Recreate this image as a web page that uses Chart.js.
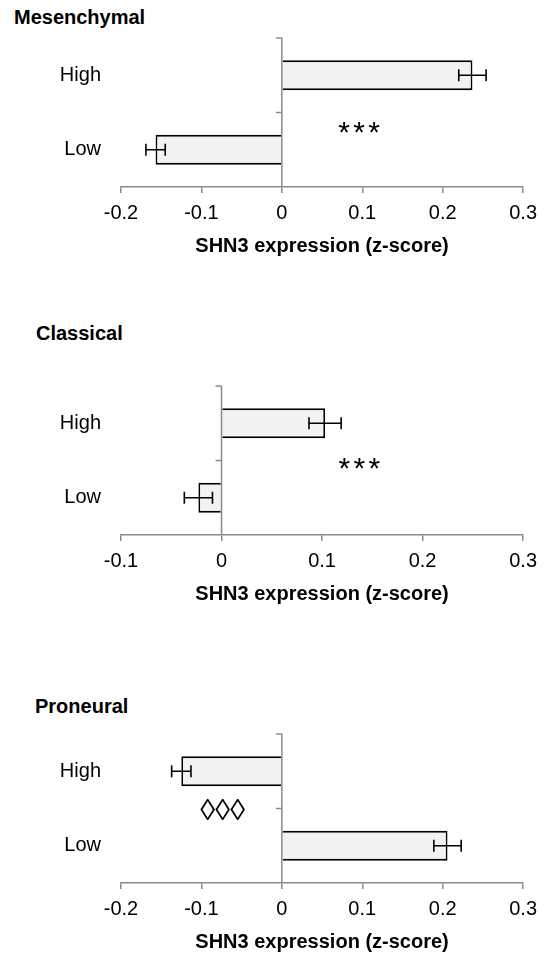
<!DOCTYPE html>
<html lang="en">
<head>
<meta charset="UTF-8">
<title>SHN3 expression by subtype</title>
<script src="https://cdn.jsdelivr.net/npm/chart.js"></script>
<style>
  body {
    margin: 0;
    background: #fff;
    width: 545px;
    height: 954px;
    overflow: hidden;
    position: relative;
    font-family: "Liberation Sans", Arial, sans-serif;
  }
  .panel-title {
    position: absolute;
    font-weight: bold;
    font-size: 20px;
    line-height: 24px;
    color: #000;
  }
  canvas {
    position: absolute;
    left: 0;
  }
</style>
</head>
<body>

<div class="panel-title" style="left:14px; top:5px;">Mesenchymal</div>
<canvas id="mesChart" width="545" height="258" style="top:0px"></canvas>

<div class="panel-title" style="left:36px; top:321px;">Classical</div>
<canvas id="claChart" width="545" height="258" style="top:348px"></canvas>

<div class="panel-title" style="left:35px; top:694px;">Proneural</div>
<canvas id="proChart" width="545" height="258" style="top:696px"></canvas>

<script>
  // categories and values
  const categories = ['High', 'Low'];

  const mesValues = [0.237, -0.157];
  const mesErrors = [0.017, 0.012];
  const claValues = [0.103, -0.023];
  const claErrors = [0.016, 0.014];
  const proValues = [-0.125, 0.206];
  const proErrors = [0.012, 0.017];

  const mesTicks = [-0.2, -0.1, 0, 0.1, 0.2, 0.3];
  const mesTickLabels = ['-0.2', '-0.1', '0', '0.1', '0.2', '0.3'];
  const claTicks = [-0.1, 0, 0.1, 0.2, 0.3];
  const claTickLabels = ['-0.1', '0', '0.1', '0.2', '0.3'];
  const proTicks = [-0.2, -0.1, 0, 0.1, 0.2, 0.3];
  const proTickLabels = ['-0.2', '-0.1', '0', '0.1', '0.2', '0.3'];

  const AXIS_GREY = '#8a8a8a';
  const FONT = '"Liberation Sans", Arial, sans-serif';

  // error bars, zero line with its ticks, significance marks
  const shnPlugin = {
    id: 'shn',
    afterDatasetsDraw(chart, args, opts) {
      const { ctx, chartArea } = chart;
      const x = chart.scales.x;
      const y = chart.scales.y;
      const meta = chart.getDatasetMeta(0);
      ctx.save();

      ctx.strokeStyle = '#000';
      ctx.lineWidth = 1.6;
      opts.values.forEach((v, i) => {
        const cy = meta.data[i].y;
        const x1 = x.getPixelForValue(v - opts.errors[i]);
        const x2 = x.getPixelForValue(v + opts.errors[i]);
        ctx.beginPath();
        ctx.moveTo(x1, cy); ctx.lineTo(x2, cy);
        ctx.moveTo(x1, cy - 6); ctx.lineTo(x1, cy + 6);
        ctx.moveTo(x2, cy - 6); ctx.lineTo(x2, cy + 6);
        ctx.stroke();
      });

      const x0 = x.getPixelForValue(0);
      ctx.strokeStyle = AXIS_GREY;
      ctx.lineWidth = 1.5;
      ctx.beginPath();
      ctx.moveTo(x0, chartArea.top);
      ctx.lineTo(x0, chartArea.bottom);
      for (let k = 0; k < categories.length; k++) {
        const ty = y.getPixelForValue(k - 0.5);
        ctx.moveTo(x0 - 6, ty);
        ctx.lineTo(x0, ty);
      }
      ctx.stroke();

      const m = opts.mark;
      const cx = x.getPixelForValue(m.x);
      const cy = y.getPixelForValue(m.y);
      const chars = Array.from(m.text);
      ctx.fillStyle = '#000';
      ctx.font = m.size + 'px ' + FONT;
      ctx.textAlign = 'center';
      ctx.textBaseline = 'alphabetic';
      chars.forEach((c, j) => {
        ctx.fillText(c, cx + (j - (chars.length - 1) / 2) * m.spacing, cy + m.lift);
      });

      ctx.restore();
    }
  };

  function buildChart(id, values, errors, ticks, tickLabels, mark) {
    return new Chart(document.getElementById(id), {
      type: 'bar',
      data: {
        labels: categories,
        datasets: [{
          data: values,
          backgroundColor: '#f2f2f2',
          borderColor: '#000',
          borderWidth: 1.8,
          barPercentage: 0.4,
          categoryPercentage: 1
        }]
      },
      options: {
        indexAxis: 'y',
        responsive: false,
        animation: false,
        devicePixelRatio: 1,
        layout: { padding: { top: 38, right: 20, bottom: 0, left: 0 } },
        scales: {
          x: {
            min: ticks[0],
            max: ticks[ticks.length - 1],
            afterBuildTicks: s => { s.ticks = ticks.map(v => ({ value: v })); },
            afterFit: s => { s.height = 71; },
            ticks: {
              callback: (v, i) => tickLabels[i],
              color: '#000',
              font: { family: FONT, size: 20 },
              padding: 8,
              maxRotation: 0,
              autoSkip: false
            },
            grid: { drawOnChartArea: false, drawTicks: true, tickLength: 6, color: AXIS_GREY, lineWidth: 1.5 },
            border: { display: true, color: AXIS_GREY, width: 1.5 },
            title: {
              display: true,
              text: 'SHN3 expression (z-score)',
              color: '#000',
              font: { family: FONT, size: 20, weight: 'bold' },
              padding: { top: 0, bottom: 0 }
            }
          },
          y: {
            afterFit: s => { s.width = 121; },
            grid: { display: false, drawTicks: false },
            border: { display: false },
            ticks: { color: '#000', font: { family: FONT, size: 20 }, padding: 20 }
          }
        },
        plugins: {
          legend: { display: false },
          tooltip: { enabled: false },
          shn: { values: values, errors: errors, mark: mark }
        }
      },
      plugins: [shnPlugin]
    });
  }

  buildChart('mesChart', mesValues, mesErrors, mesTicks, mesTickLabels,
    { text: '***', x: 0.096, y: 0.69, size: 30, spacing: 15, lift: 15 });
  buildChart('claChart', claValues, claErrors, claTicks, claTickLabels,
    { text: '***', x: 0.137, y: 0.54, size: 30, spacing: 15, lift: 15 });
  buildChart('proChart', proValues, proErrors, proTicks, proTickLabels,
    { text: '\u25CA\u25CA\u25CA', x: -0.0735, y: 0.5, size: 30, spacing: 15, lift: 11 });
</script>
</body>
</html>
